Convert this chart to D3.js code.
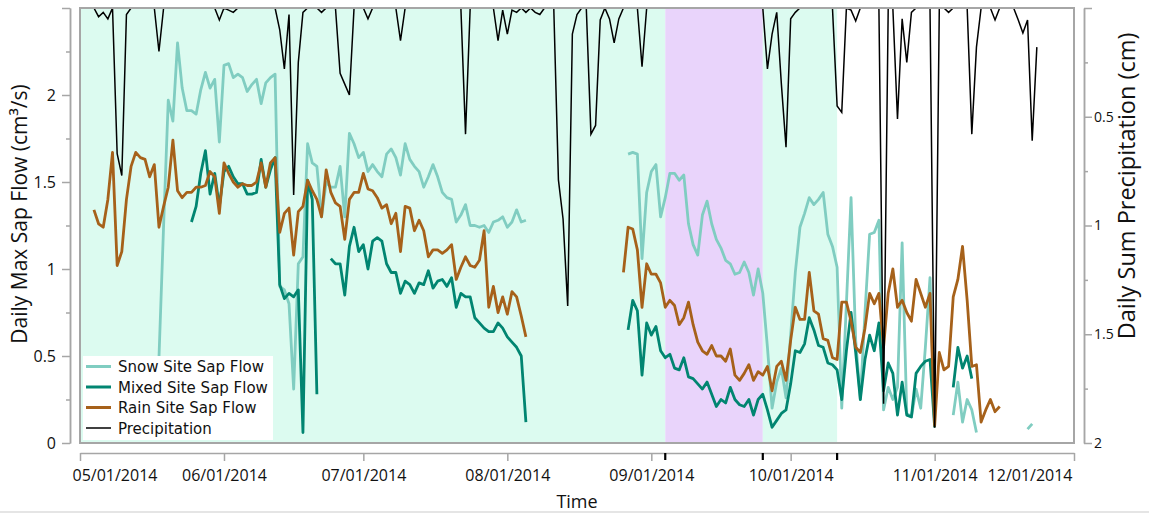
<!DOCTYPE html>
<html>
<head>
<meta charset="utf-8">
<script src="https://cdn.jsdelivr.net/npm/d3@7"></script>
<style>
  body { margin: 0; background: #fff; }
  svg { display: block; }
  .tick text { fill: #111; }
</style>
</head>
<body>
<div id="chart"></div>
<script>
// every series is one value per day, index 0 = 05/01/2014, null = no data
var startDate = new Date(Date.UTC(2014, 4, 1));
var endDate = new Date(Date.UTC(2014, 11, 1));

var monthTicks = [
  new Date(Date.UTC(2014, 4, 1)), new Date(Date.UTC(2014, 5, 1)), new Date(Date.UTC(2014, 6, 1)),
  new Date(Date.UTC(2014, 7, 1)), new Date(Date.UTC(2014, 8, 1)), new Date(Date.UTC(2014, 9, 1)),
  new Date(Date.UTC(2014, 10, 1)), new Date(Date.UTC(2014, 11, 1))
];
var monthLabels = ["05/01/2014", "06/01/2014", "07/01/2014", "08/01/2014",
                   "09/01/2014", "10/01/2014", "11/01/2014", "12/01/2014"];

// shaded periods (day index from 05/01/2014)
var periodStart = [0, 126, 147];
var periodEnd = [126, 147, 163];
var periodKind = ["snow", "transition", "snow"];

var flowTicks = [0, 0.5, 1, 1.5, 2, 2.5];
var flowMinor = [0.25, 0.75, 1.25, 1.75, 2.25];
var rainTicks = [0, 0.5, 1, 1.5, 2];
var rainMinor = [0.25, 0.75, 1.25, 1.75];

var snowFlow = [
  null,null,null,null,null,null,null,null,null,null,
  null,null,null,null,null,null,null,0.49,1.25,1.97,
  1.85,2.30,2.04,1.91,1.91,1.89,2.03,2.13,2.04,2.09,
  1.73,2.17,2.18,2.10,2.12,2.10,2.02,2.06,2.09,1.95,
  2.07,2.10,2.12,0.90,0.88,0.80,0.31,1.03,1.07,1.72,
  1.61,1.59,1.30,1.50,1.47,1.47,1.59,1.30,1.78,1.72,
  1.64,1.67,1.56,1.60,1.56,1.53,1.66,1.69,1.64,1.54,
  1.72,1.63,1.59,1.56,1.47,1.53,1.60,1.53,1.44,1.41,
  1.40,1.27,1.31,1.37,1.25,1.25,1.24,1.25,1.21,1.27,
  1.28,1.30,1.24,1.27,1.34,1.27,1.28,null,null,null,
  null,null,null,null,null,null,null,null,null,null,
  null,null,null,null,null,null,null,null,1.66,1.67,
  1.66,1.06,1.44,1.56,1.60,1.30,1.41,1.55,1.55,1.51,
  1.54,1.26,1.14,1.08,1.31,1.39,1.26,1.17,1.12,1.05,
  1.03,0.97,0.98,1.04,0.98,0.85,1.00,0.86,0.55,0.20,
  0.35,0.43,0.26,0.62,0.98,1.24,1.32,1.41,1.37,1.40,
  1.44,1.20,1.13,1.01,0.20,0.80,1.41,0.59,0.25,0.75,
  1.20,1.21,1.28,0.19,0.32,0.25,0.32,1.15,0.17,0.15,
  0.31,0.20,0.55,0.95,0.10,null,null,null,0.16,0.35,
  0.12,0.25,0.19,0.06,null,null,null,null,null,null,
  null,null,null,null,0.08,0.11
];

var mixedFlow = [
  null,null,null,null,null,null,null,null,null,null,
  null,null,null,null,null,null,null,null,null,null,
  null,null,null,null,1.27,1.36,1.55,1.68,1.43,1.55,
  1.36,1.56,1.59,1.53,1.49,1.49,1.43,1.43,1.44,1.63,
  1.47,1.57,1.64,0.91,0.83,0.86,0.84,0.88,0.06,1.51,
  1.40,0.28,null,null,1.06,1.03,1.03,0.85,1.13,1.24,
  1.10,1.14,1.00,1.16,1.18,1.16,1.03,0.98,0.98,0.86,
  0.93,0.91,0.86,0.92,0.91,0.99,0.89,0.93,0.94,0.90,
  0.95,0.78,0.86,0.84,0.84,0.72,0.69,0.66,0.64,0.64,
  0.69,0.66,0.61,0.58,0.55,0.50,0.12,null,null,null,
  null,null,null,null,null,null,null,null,null,null,
  null,null,null,null,null,null,null,null,0.65,0.82,
  0.76,0.39,0.69,0.62,0.67,0.53,0.49,0.51,0.43,0.42,
  0.49,0.38,0.37,0.34,0.31,0.35,0.28,0.21,0.25,0.23,
  0.32,0.25,0.22,0.21,0.25,0.16,0.25,0.28,0.19,0.09,
  0.13,0.17,0.19,0.34,0.53,0.52,0.57,0.72,0.65,0.56,
  0.55,0.46,0.45,0.42,0.25,0.53,0.75,0.52,0.25,0.48,
  0.62,0.53,0.69,0.30,0.46,0.40,0.16,0.35,0.16,0.15,
  0.40,0.44,0.47,0.48,0.09,null,null,null,0.32,0.55,
  0.43,0.50,0.37
];

var rainFlow = [
  null,null,null,1.34,1.26,1.24,1.40,1.67,1.02,1.10,
  1.40,1.59,1.67,1.64,1.63,1.53,1.60,1.24,1.36,1.47,
  1.74,1.45,1.41,1.44,1.44,1.47,1.47,1.48,1.56,1.53,
  1.32,1.61,1.55,1.50,1.47,1.49,1.48,1.48,1.50,1.61,
  1.47,1.61,1.64,1.21,1.32,1.35,1.08,1.33,1.36,1.51,
  1.45,1.40,1.30,1.57,1.44,1.38,1.36,1.17,1.40,1.44,
  1.44,1.55,1.46,1.45,1.41,1.35,1.37,1.26,1.32,1.10,
  1.36,1.35,1.22,1.28,1.22,1.07,1.11,1.11,1.09,1.11,
  1.14,0.94,1.01,1.07,1.02,1.01,1.05,1.22,0.78,0.90,
  0.75,0.84,0.74,0.87,0.84,0.73,0.61,null,null,null,
  null,null,null,null,null,null,null,null,null,null,
  null,null,null,null,null,null,null,0.98,1.24,1.23,
  1.11,0.78,1.03,0.97,0.97,0.92,0.78,0.82,0.79,0.68,
  0.72,0.81,0.68,0.58,0.53,0.51,0.56,0.50,0.50,0.47,
  0.54,0.39,0.36,0.40,0.45,0.36,0.41,0.39,0.44,0.30,
  0.44,0.47,0.36,0.59,0.78,0.71,0.71,0.98,0.76,0.74,
  0.60,0.59,0.49,0.48,0.81,0.81,0.70,0.55,0.52,0.66,
  0.86,0.80,0.86,0.55,0.86,1.00,0.78,0.82,0.75,0.70,
  0.94,0.86,0.78,0.86,0.10,0.52,0.42,0.44,0.84,0.94,
  1.13,0.82,0.44,0.45,0.12,0.19,0.25,0.18,0.21
];

var precip = [
  null,null,null,0,0.04,0.02,0.05,0,0.67,0.77,
  0.03,0,0,0,0,0,0,0.20,0,0,
  0,0,0,0,0,0,0,0,0,0,
  0.055,0,0.01,0.02,0,0,0,0,0,0,
  0,0,0,0.10,0.28,0.03,0.86,0.25,0.02,0,
  0,0,0.02,0,0,0,0.30,0.35,0.40,0,
  0,0,0.05,0,0,0,0,0,0,0.15,
  0,0,0,0,0,0,0,0,0,0,
  0,0,0,0.58,0,0,0,0,0,0,
  0.15,0.01,0.12,0.01,0.02,0,0.02,0,0.02,0.03,
  0,0,0,0.79,0.97,1.37,0.12,0.03,0,0,
  0.58,0.54,0.055,0,0.05,0.16,0.05,0,0,0,
  0,0.27,0,0,0,0,0,0,0,0,
  0,0,0,0,0,0,0,0,0,0,
  0,0,0,0,0,0,0,0,0.28,0.12,
  0.02,0.35,0.64,0.05,0.02,0,0,0,0,0,
  0,0,0,0.45,0.48,0,0.01,0.06,0,0,
  0,0,0,1.82,0,0,0.51,0.05,0.25,0.02,
  0,0,0,0,1.93,0,0,0.02,0,0,
  0,0,0.58,0.18,0,0,0,0.055,0,0,
  0,0,0.055,0.115,0.055,0.61,0.18
];

var seriesNames = ["Snow Site Sap Flow", "Mixed Site Sap Flow", "Rain Site Sap Flow", "Precipitation"];

// ---- drawing ----
var width = 1149, height = 514;
var box = {left: 80, right: 1074, top: 8, bottom: 443};

var colors = {
  snow: '#80cdc1', mixed: '#018571', rain: '#a6611a', precip: '#000000',
  snowBg: '#dcfbf0', transitionBg: '#e9d4fb', axis: '#a6a6a6'
};

var svg = d3.select('#chart').append('svg')
    .attr('width', width)
    .attr('height', height);

var x = d3.scaleUtc()
    .domain([startDate, endDate])
    .range([box.left, box.right]);

var yFlow = d3.scaleLinear()
    .domain([0, 2.5])
    .range([box.bottom, box.top]);

var yRain = d3.scaleLinear()
    .domain([0, 2])
    .range([box.top, box.bottom]);

function dayDate(i) { return d3.utcDay.offset(startDate, i); }

svg.append('defs').append('clipPath').attr('id', 'plotclip')
   .append('rect')
   .attr('x', box.left).attr('y', box.top)
   .attr('width', box.right - box.left)
   .attr('height', box.bottom - box.top);

var plot = svg.append('g').attr('clip-path', 'url(#plotclip)');

// background periods
plot.selectAll('rect.period')
    .data(d3.range(periodStart.length))
    .join('rect')
    .attr('class', 'period')
    .attr('x', function(i) { return x(dayDate(periodStart[i])); })
    .attr('y', box.top)
    .attr('width', function(i) { return x(dayDate(periodEnd[i])) - x(dayDate(periodStart[i])); })
    .attr('height', box.bottom - box.top)
    .style('fill', function(i) { return periodKind[i] === 'snow' ? colors.snowBg : colors.transitionBg; });

var flowLine = d3.line()
    .defined(function(d) { return d != null; })
    .x(function(d, i) { return x(dayDate(i)); })
    .y(function(d) { return yFlow(d); });

var rainLine = d3.line()
    .defined(function(d) { return d != null; })
    .x(function(d, i) { return x(dayDate(i)); })
    .y(function(d) { return yRain(d); });

var flows = [[snowFlow, colors.snow], [mixedFlow, colors.mixed], [rainFlow, colors.rain]];
flows.forEach(function(f) {
  plot.append('path')
      .datum(f[0])
      .attr('d', flowLine)
      .attr('fill', 'none')
      .attr('stroke', f[1])
      .attr('stroke-width', 2.8)
      .attr('stroke-linejoin', 'round');
});

plot.append('path')
    .datum(precip)
    .attr('d', rainLine)
    .attr('fill', 'none')
    .attr('stroke', colors.precip)
    .attr('stroke-width', 1.5);

// frame
svg.append('rect')
   .attr('x', box.left).attr('y', box.top)
   .attr('width', box.right - box.left)
   .attr('height', box.bottom - box.top)
   .style('fill', 'none')
   .style('stroke', colors.axis)
   .style('stroke-width', 2);

// legend
var legend = svg.append('g').attr('transform', 'translate(83,356)');
legend.append('rect')
      .attr('width', 190).attr('height', 84)
      .style('fill', '#fff');
var legendColors = [colors.snow, colors.mixed, colors.rain, colors.precip];
seriesNames.forEach(function(name, i) {
  var cy = 10.5 + i * 20.5;
  legend.append('line')
        .attr('x1', 3).attr('x2', 28)
        .attr('y1', cy).attr('y2', cy)
        .attr('stroke', legendColors[i])
        .attr('stroke-width', i < 3 ? 3 : 1.5);
  legend.append('text')
        .attr('x', 35).attr('y', cy + 5.5)
        .style('font-family', 'DejaVu Sans')
        .style('font-size', '15px')
        .style('fill', '#111')
        .text(name);
});

// axes
function styleAxis(g) {
  g.select('.domain').attr('stroke', colors.axis).attr('stroke-width', 1.5);
  g.selectAll('.tick line').attr('stroke', colors.axis).attr('stroke-width', 1.5);
}

var leftAxis = svg.append('g')
    .attr('transform', 'translate(70,0)')
    .call(d3.axisLeft(yFlow)
          .tickValues(flowTicks)
          .tickSize(8).tickSizeOuter(0).tickPadding(6)
          .tickFormat(function(d) { return d === 2.5 ? '' : d3.format('~g')(d); }))
    .call(styleAxis);
leftAxis.selectAll('text').style('font-family', 'Open Sans').style('font-size', '16px');

svg.append('g')
   .attr('transform', 'translate(70,0)')
   .call(d3.axisLeft(yFlow).tickValues(flowMinor).tickSize(4).tickSizeOuter(0).tickFormat(''))
   .call(styleAxis);

var rightAxis = svg.append('g')
    .attr('transform', 'translate(1084,0)')
    .call(d3.axisRight(yRain)
          .tickValues(rainTicks)
          .tickSize(8).tickSizeOuter(0).tickPadding(2)
          .tickFormat(function(d) { return d === 0 ? '' : d3.format('~g')(d); }))
    .call(styleAxis);
rightAxis.selectAll('text').style('font-family', 'Open Sans').style('font-size', '14px');

svg.append('g')
   .attr('transform', 'translate(1084,0)')
   .call(d3.axisRight(yRain).tickValues(rainMinor).tickSize(4).tickSizeOuter(0).tickFormat(''))
   .call(styleAxis);

var bottomAxis = svg.append('g')
    .attr('transform', 'translate(0,453)')
    .call(d3.axisBottom(x)
          .tickValues(monthTicks)
          .tickSize(8).tickSizeOuter(0).tickPadding(9)
          .tickFormat(function(d, i) { return monthLabels[i]; }))
    .call(styleAxis);
bottomAxis.selectAll('text').style('font-family', 'Open Sans').style('font-size', '16px');
// first and last labels are kept inside the axis span
bottomAxis.selectAll('.tick text')
    .attr('text-anchor', function(d, i) { return i === 0 ? 'start' : (i === monthTicks.length - 1 ? 'end' : 'middle'); })
    .attr('dx', function(d, i) { return i === 0 ? -8 : (i === monthTicks.length - 1 ? -2 : 0); });

// period boundary marks
var marks = [periodEnd[0], periodEnd[1], periodEnd[2]];
svg.append('g').selectAll('line')
   .data(marks)
   .join('line')
   .attr('x1', function(d) { return x(dayDate(d)); })
   .attr('x2', function(d) { return x(dayDate(d)); })
   .attr('y1', 453).attr('y2', 460)
   .attr('stroke', '#000')
   .attr('stroke-width', 2.2);

// titles
svg.append('text')
   .attr('transform', 'translate(27,214) rotate(-90)')
   .attr('text-anchor', 'middle')
   .style('font-family', 'Open Sans').style('font-size', '21px').style('fill', '#111')
   .text('Daily Max Sap Flow (cm³/s)');

svg.append('text')
   .attr('transform', 'translate(1135,186) rotate(-90)')
   .attr('text-anchor', 'middle')
   .style('font-family', 'Open Sans').style('font-size', '23.5px').style('fill', '#111')
   .text('Daily Sum Precipitation (cm)');

svg.append('text')
   .attr('x', 577).attr('y', 508)
   .attr('text-anchor', 'middle')
   .style('font-family', 'Open Sans').style('font-size', '18px').style('fill', '#111')
   .text('Time');

svg.append('line')
   .attr('x1', 0).attr('x2', width)
   .attr('y1', 512).attr('y2', 512)
   .attr('stroke', '#dcdcdc').attr('stroke-width', 1.5);
</script>
</body>
</html>
